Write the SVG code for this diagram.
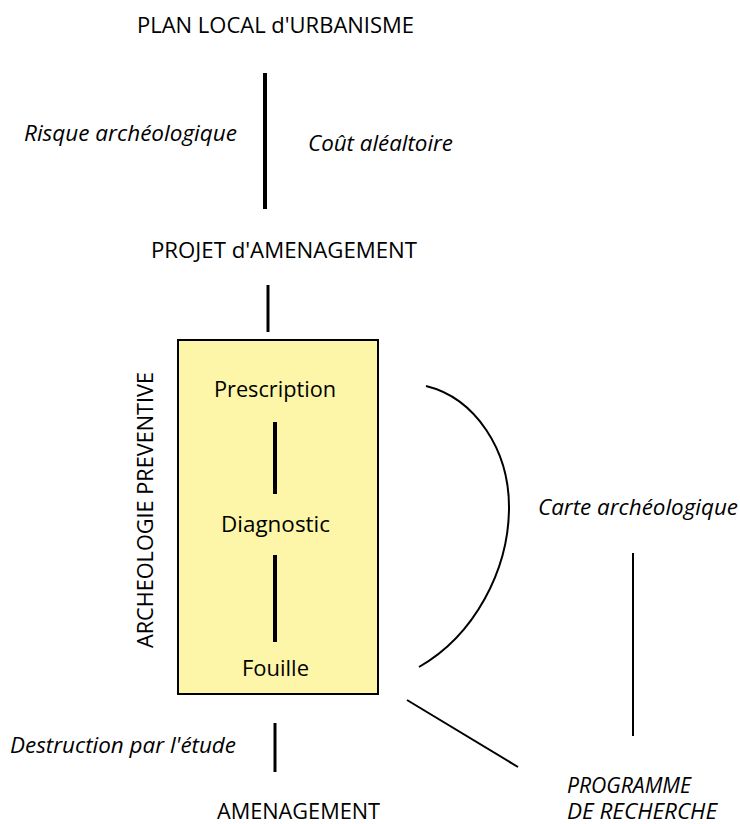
<svg xmlns="http://www.w3.org/2000/svg" width="740" height="824" viewBox="0 0 740 824">
<style>
text{font-family:"Open Sans","Noto Sans","Liberation Sans",sans-serif;fill:#000;font-size:21px}
.it{font-style:italic}
.c{text-anchor:middle}
.thick{stroke:#000;stroke-width:4;fill:none}
.mid{stroke:#000;stroke-width:3;fill:none}
.thin{stroke:#000;stroke-width:2;fill:none}
</style>
<rect width="740" height="824" fill="#fff"/>
<g id="plu"><text x="275.5" y="33" class="c" textLength="277" lengthAdjust="spacingAndGlyphs">PLAN LOCAL d'URBANISME</text></g>
<g id="risque"><text x="24" y="141" class="it" textLength="213" lengthAdjust="spacingAndGlyphs">Risque archéologique</text></g>
<g id="cout"><text x="308" y="151" class="it" textLength="145" lengthAdjust="spacingAndGlyphs">Coût aléaltoire</text></g>
<g id="projet"><text x="284" y="258" class="c" textLength="266" lengthAdjust="spacingAndGlyphs">PROJET d'AMENAGEMENT</text></g>
<g id="archeo">
<rect x="178" y="340" width="200" height="354" fill="#fdf6a8" stroke="#000" stroke-width="2"/>
<text x="275" y="397" class="c" textLength="122" lengthAdjust="spacingAndGlyphs">Prescription</text>
<text x="275.5" y="532" class="c" textLength="109" lengthAdjust="spacingAndGlyphs">Diagnostic</text>
<text x="275.5" y="676" class="c" textLength="67" lengthAdjust="spacingAndGlyphs">Fouille</text>
</g>
<g id="label-archeo"><text transform="translate(153,510) rotate(-90)" class="c" textLength="276" lengthAdjust="spacingAndGlyphs">ARCHEOLOGIE PREVENTIVE</text></g>
<g id="carte"><text x="538" y="515" class="it" textLength="200" lengthAdjust="spacingAndGlyphs">Carte archéologique</text></g>
<g id="programme">
<text x="567" y="793" class="it" textLength="124" lengthAdjust="spacingAndGlyphs">PROGRAMME</text>
<text x="567" y="819" class="it" textLength="150" lengthAdjust="spacingAndGlyphs">DE RECHERCHE</text>
</g>
<g id="destruction"><text x="10" y="753" class="it" textLength="226" lengthAdjust="spacingAndGlyphs">Destruction par l'étude</text></g>
<g id="amenagement"><text x="298.5" y="819" class="c" textLength="163" lengthAdjust="spacingAndGlyphs">AMENAGEMENT</text></g>
<g id="connectors">
<line class="thick" x1="265" y1="73" x2="265" y2="209"/>
<line class="mid" x1="268" y1="285" x2="268" y2="332"/>
<line class="thick" x1="275" y1="422" x2="275" y2="494"/>
<line class="thick" x1="275" y1="555" x2="275" y2="642"/>
<line class="mid" x1="275" y1="723" x2="275" y2="772"/>
<path class="thin" d="M426,386 C475,398 510,450 509,510 C508,570 475,635 419,667"/>
<line class="thin" x1="633" y1="553" x2="633" y2="736"/>
<line class="thin" x1="407" y1="700" x2="518" y2="767"/>
</g>
</svg>
